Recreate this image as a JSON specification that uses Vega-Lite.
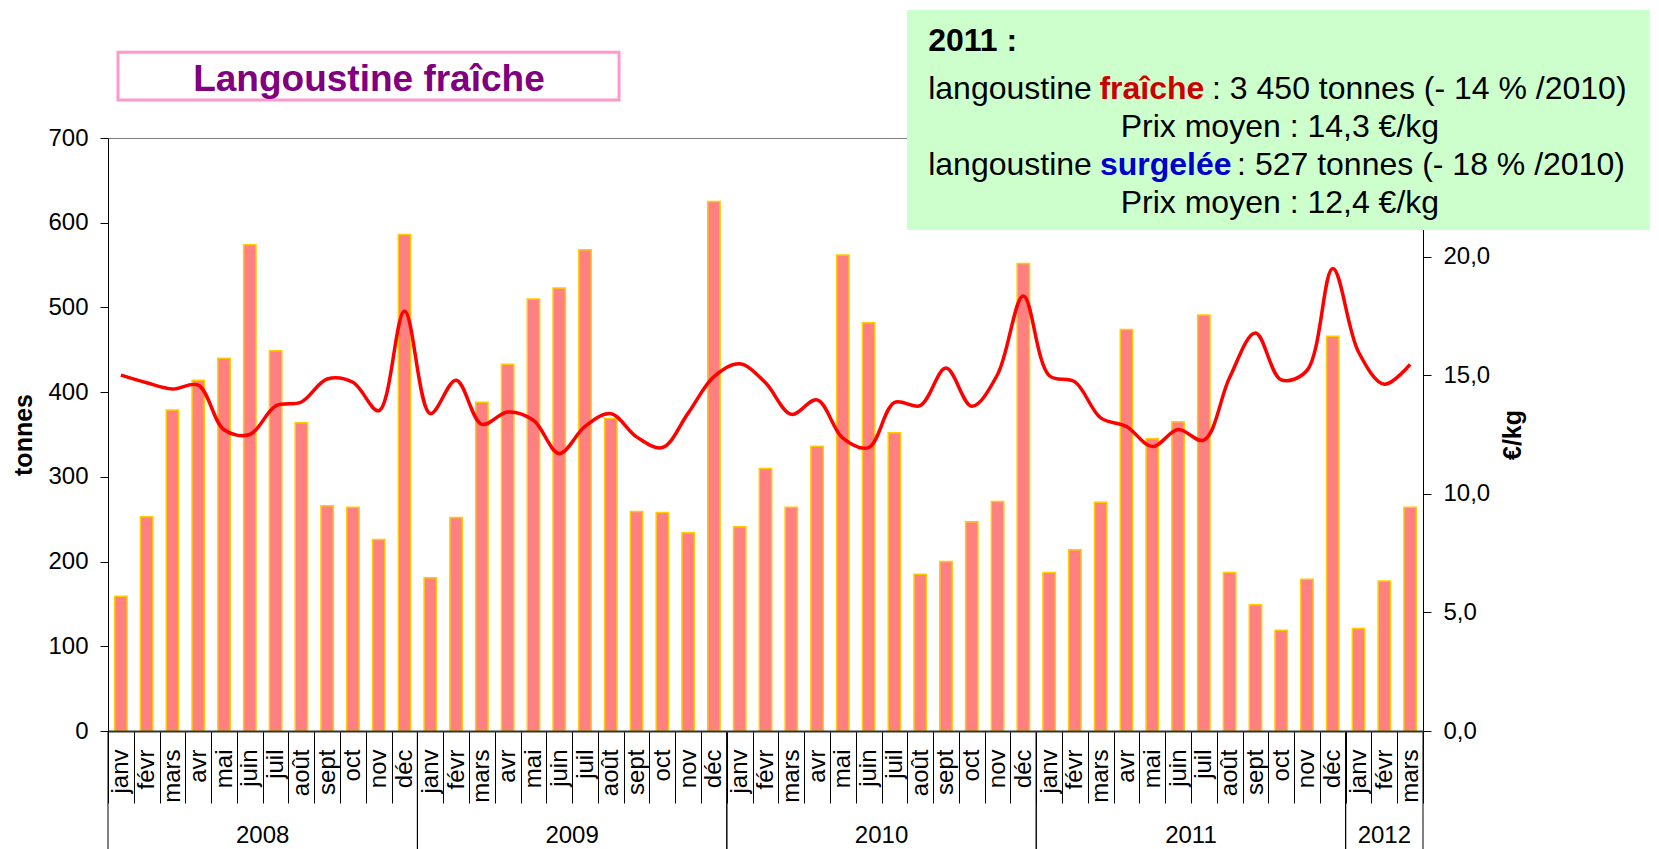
{
  "$schema": "https://vega.github.io/schema/vega-lite/v6.json",
  "width": 1315,
  "height": 593,
  "autosize": {"type": "none"},
  "padding": {"left": 108, "top": 138, "right": 236, "bottom": 118},
  "background": "white",
  "config": {"font": "Liberation Sans", "view": {"stroke": "#808080", "strokeWidth": 1}},
  "datasets": {
    "mois": [
      {"mois": "2008-01", "tonnes": 159, "prix": 15.0},
      {"mois": "2008-02", "tonnes": 253, "prix": 14.68},
      {"mois": "2008-03", "tonnes": 379, "prix": 14.42},
      {"mois": "2008-04", "tonnes": 414, "prix": 14.58},
      {"mois": "2008-05", "tonnes": 440, "prix": 12.7},
      {"mois": "2008-06", "tonnes": 574, "prix": 12.5},
      {"mois": "2008-07", "tonnes": 449, "prix": 13.7},
      {"mois": "2008-08", "tonnes": 364, "prix": 13.87},
      {"mois": "2008-09", "tonnes": 266, "prix": 14.84},
      {"mois": "2008-10", "tonnes": 264, "prix": 14.7},
      {"mois": "2008-11", "tonnes": 226, "prix": 13.5},
      {"mois": "2008-12", "tonnes": 586, "prix": 17.71},
      {"mois": "2009-01", "tonnes": 181, "prix": 13.38},
      {"mois": "2009-02", "tonnes": 252, "prix": 14.79},
      {"mois": "2009-03", "tonnes": 388, "prix": 12.93},
      {"mois": "2009-04", "tonnes": 433, "prix": 13.45},
      {"mois": "2009-05", "tonnes": 510, "prix": 13.1},
      {"mois": "2009-06", "tonnes": 523, "prix": 11.7},
      {"mois": "2009-07", "tonnes": 568, "prix": 12.84},
      {"mois": "2009-08", "tonnes": 369, "prix": 13.38},
      {"mois": "2009-09", "tonnes": 259, "prix": 12.4},
      {"mois": "2009-10", "tonnes": 258, "prix": 11.95},
      {"mois": "2009-11", "tonnes": 234, "prix": 13.4},
      {"mois": "2009-12", "tonnes": 625, "prix": 14.94},
      {"mois": "2010-01", "tonnes": 241, "prix": 15.48},
      {"mois": "2010-02", "tonnes": 310, "prix": 14.68},
      {"mois": "2010-03", "tonnes": 264, "prix": 13.35},
      {"mois": "2010-04", "tonnes": 336, "prix": 13.96},
      {"mois": "2010-05", "tonnes": 562, "prix": 12.35},
      {"mois": "2010-06", "tonnes": 482, "prix": 11.95},
      {"mois": "2010-07", "tonnes": 352, "prix": 13.85},
      {"mois": "2010-08", "tonnes": 185, "prix": 13.72},
      {"mois": "2010-09", "tonnes": 200, "prix": 15.3},
      {"mois": "2010-10", "tonnes": 247, "prix": 13.69},
      {"mois": "2010-11", "tonnes": 271, "prix": 15.03},
      {"mois": "2010-12", "tonnes": 552, "prix": 18.34},
      {"mois": "2011-01", "tonnes": 187, "prix": 14.99},
      {"mois": "2011-02", "tonnes": 214, "prix": 14.72},
      {"mois": "2011-03", "tonnes": 270, "prix": 13.2},
      {"mois": "2011-04", "tonnes": 474, "prix": 12.84},
      {"mois": "2011-05", "tonnes": 345, "prix": 11.99},
      {"mois": "2011-06", "tonnes": 365, "prix": 12.71},
      {"mois": "2011-07", "tonnes": 491, "prix": 12.26},
      {"mois": "2011-08", "tonnes": 187, "prix": 14.9},
      {"mois": "2011-09", "tonnes": 149, "prix": 16.78},
      {"mois": "2011-10", "tonnes": 119, "prix": 14.8},
      {"mois": "2011-11", "tonnes": 179, "prix": 15.2},
      {"mois": "2011-12", "tonnes": 466, "prix": 19.5},
      {"mois": "2012-01", "tonnes": 121, "prix": 15.98},
      {"mois": "2012-02", "tonnes": 177, "prix": 14.62},
      {"mois": "2012-03", "tonnes": 264, "prix": 15.46}
    ],
    "annees": [
      {"annee": "2008", "debut": "2008-01", "fin": "2008-12", "centre": "2008-07"},
      {"annee": "2009", "debut": "2009-01", "fin": "2009-12", "centre": "2009-07"},
      {"annee": "2010", "debut": "2010-01", "fin": "2010-12", "centre": "2010-07"},
      {"annee": "2011", "debut": "2011-01", "fin": "2011-12", "centre": "2011-07"},
      {"annee": "2012", "debut": "2012-01", "fin": "2012-03", "centre": "2012-02"}
    ]
  },
  "layer": [
    {
      "data": {"name": "mois"},
      "mark": {"type": "bar", "fill": "#FF8080", "stroke": "#FFCC00", "strokeWidth": 1.5, "width": {"band": 0.48}},
      "encoding": {
        "x": {
          "field": "mois", "type": "ordinal",
          "scale": {"paddingInner": 0, "paddingOuter": 0},
          "axis": {
            "orient": "bottom", "title": null,
            "labelExpr": "isString(datum.value) ? ['janv','févr','mars','avr','mai','juin','juil','août','sept','oct','nov','déc'][toNumber(substring(datum.value,5,7))-1] : ''",
            "labelAngle": 270, "labelAlign": "right", "labelBaseline": "middle",
            "labelFontSize": 24, "labelColor": "#000000", "labelPadding": -54,
            "tickBand": "extent", "tickSize": 72, "tickColor": "#000000", "tickWidth": 1,
            "domainColor": "#333333", "domainWidth": 2, "zindex": 1,
            "labelOverlap": false, "labelBound": false, "labelFlush": false
          }
        },
        "y": {
          "field": "tonnes", "type": "quantitative",
          "scale": {"domain": [0, 700], "nice": false},
          "axis": {
            "orient": "left", "title": "tonnes", "titleFontSize": 25, "titleFontWeight": "bold", "titleColor": "#000000", "titlePadding": 11,
            "values": [0, 100, 200, 300, 400, 500, 600, 700],
            "labelFontSize": 24, "labelColor": "#000000", "labelPadding": 12,
            "tickSize": 8, "tickColor": "#000000", "domainColor": "#000000", "grid": false, "zindex": 1
          }
        }
      }
    },
    {
      "data": {"name": "mois"},
      "mark": {"type": "line", "color": "#FF0000", "strokeWidth": 3.5, "interpolate": "catmull-rom"},
      "encoding": {
        "x": {"field": "mois", "type": "ordinal", "scale": {"paddingInner": 0, "paddingOuter": 0}, "axis": null},
        "y": {
          "field": "prix", "type": "quantitative",
          "scale": {"domain": [0, 25], "nice": false},
          "axis": {
            "orient": "right", "title": "€/kg", "titleFontSize": 25, "titleFontWeight": "bold", "titleColor": "#000000",
            "titleAngle": 270, "titleBaseline": "top", "titlePadding": 11,
            "values": [0, 5, 10, 15, 20],
            "labelExpr": "replace(format(datum.value, '.1f'), '.', ',')",
            "labelAlign": "left",
            "labelFontSize": 24, "labelColor": "#000000", "labelPadding": 12,
            "tickSize": 8, "tickColor": "#000000", "domainColor": "#000000", "grid": false
          }
        }
      }
    },
    {
      "data": {"name": "annees"},
      "mark": {"type": "rule", "color": "#000000", "strokeWidth": 1, "clip": false},
      "encoding": {
        "x": {"field": "debut", "type": "ordinal", "bandPosition": 0, "axis": null,
              "scale": {"paddingInner": 0, "paddingOuter": 0, "domain": ["2008-01","2008-02","2008-03","2008-04","2008-05","2008-06","2008-07","2008-08","2008-09","2008-10","2008-11","2008-12","2009-01","2009-02","2009-03","2009-04","2009-05","2009-06","2009-07","2009-08","2009-09","2009-10","2009-11","2009-12","2010-01","2010-02","2010-03","2010-04","2010-05","2010-06","2010-07","2010-08","2010-09","2010-10","2010-11","2010-12","2011-01","2011-02","2011-03","2011-04","2011-05","2011-06","2011-07","2011-08","2011-09","2011-10","2011-11","2011-12","2012-01","2012-02","2012-03"]}},
        "y": {"datum": 0, "type": "quantitative", "scale": {"domain": [0, 700], "nice": false}, "axis": null},
        "y2": {"datum": -140}
      }
    },
    {
      "data": {"name": "annees"},
      "mark": {"type": "rule", "color": "#000000", "strokeWidth": 1, "clip": false},
      "encoding": {
        "x": {"field": "fin", "type": "ordinal", "bandPosition": 1, "axis": null,
              "scale": {"paddingInner": 0, "paddingOuter": 0, "domain": ["2008-01","2008-02","2008-03","2008-04","2008-05","2008-06","2008-07","2008-08","2008-09","2008-10","2008-11","2008-12","2009-01","2009-02","2009-03","2009-04","2009-05","2009-06","2009-07","2009-08","2009-09","2009-10","2009-11","2009-12","2010-01","2010-02","2010-03","2010-04","2010-05","2010-06","2010-07","2010-08","2010-09","2010-10","2010-11","2010-12","2011-01","2011-02","2011-03","2011-04","2011-05","2011-06","2011-07","2011-08","2011-09","2011-10","2011-11","2011-12","2012-01","2012-02","2012-03"]}},
        "y": {"datum": 0, "type": "quantitative", "scale": {"domain": [0, 700], "nice": false}, "axis": null},
        "y2": {"datum": -140}
      }
    },
    {
      "data": {"name": "annees"},
      "transform": [{"filter": "datum.annee != '2012'"}],
      "mark": {"type": "text", "fontSize": 24, "color": "#000000", "align": "center", "baseline": "alphabetic", "dx": -12.9, "clip": false},
      "encoding": {
        "text": {"field": "annee"},
        "x": {"field": "centre", "type": "ordinal", "bandPosition": 0.5, "axis": null,
              "scale": {"paddingInner": 0, "paddingOuter": 0, "domain": ["2008-01","2008-02","2008-03","2008-04","2008-05","2008-06","2008-07","2008-08","2008-09","2008-10","2008-11","2008-12","2009-01","2009-02","2009-03","2009-04","2009-05","2009-06","2009-07","2009-08","2009-09","2009-10","2009-11","2009-12","2010-01","2010-02","2010-03","2010-04","2010-05","2010-06","2010-07","2010-08","2010-09","2010-10","2010-11","2010-12","2011-01","2011-02","2011-03","2011-04","2011-05","2011-06","2011-07","2011-08","2011-09","2011-10","2011-11","2011-12","2012-01","2012-02","2012-03"]}},
        "y": {"datum": -132.6, "type": "quantitative", "scale": {"domain": [0, 700], "nice": false}, "axis": null}
      }
    },
    {
      "data": {"name": "annees"},
      "transform": [{"filter": "datum.annee == '2012'"}],
      "mark": {"type": "text", "fontSize": 24, "color": "#000000", "align": "center", "baseline": "alphabetic", "clip": false},
      "encoding": {
        "text": {"field": "annee"},
        "x": {"field": "centre", "type": "ordinal", "bandPosition": 0.5, "axis": null,
              "scale": {"paddingInner": 0, "paddingOuter": 0, "domain": ["2008-01","2008-02","2008-03","2008-04","2008-05","2008-06","2008-07","2008-08","2008-09","2008-10","2008-11","2008-12","2009-01","2009-02","2009-03","2009-04","2009-05","2009-06","2009-07","2009-08","2009-09","2009-10","2009-11","2009-12","2010-01","2010-02","2010-03","2010-04","2010-05","2010-06","2010-07","2010-08","2010-09","2010-10","2010-11","2010-12","2011-01","2011-02","2011-03","2011-04","2011-05","2011-06","2011-07","2011-08","2011-09","2011-10","2011-11","2011-12","2012-01","2012-02","2012-03"]}},
        "y": {"datum": -132.6, "type": "quantitative", "scale": {"domain": [0, 700], "nice": false}, "axis": null}
      }
    },
    {
      "data": {"values": [{"cadre": "bilan 2011"}]},
      "mark": {"type": "rect", "fill": "#CCFFCC", "clip": false},
      "encoding": {
        "x": {"datum": 30.99, "type": "quantitative", "scale": {"domain": [0, 51], "nice": false, "zero": false}, "axis": null},
        "x2": {"datum": 59.8},
        "y": {"datum": 851.1, "type": "quantitative", "scale": {"domain": [0, 700], "nice": false, "zero": false}, "axis": null},
        "y2": {"datum": 591.4}
      }
    },
    {
      "data": {"values": [{"cadre": "titre"}]},
      "mark": {"type": "rect", "fill": "#FFFFFF", "stroke": "#FF99CC", "strokeWidth": 3, "clip": false},
      "encoding": {
        "x": {"datum": 0.388, "type": "quantitative", "scale": {"domain": [0, 51], "nice": false, "zero": false}, "axis": null},
        "x2": {"datum": 19.82},
        "y": {"datum": 801.2, "type": "quantitative", "scale": {"domain": [0, 700], "nice": false, "zero": false}, "axis": null},
        "y2": {"datum": 744.9}
      }
    },
    {
      "data": {"values": [{"texte": "Langoustine fraîche"}]},
      "mark": {"type": "text", "fontSize": 37, "fontWeight": "bold", "color": "#800080", "align": "center", "baseline": "alphabetic", "clip": false},
      "encoding": {
        "text": {"field": "texte"},
        "x": {"datum": 10.12, "type": "quantitative", "scale": {"domain": [0, 51], "nice": false, "zero": false}, "axis": null},
        "y": {"datum": 755.8, "type": "quantitative", "scale": {"domain": [0, 700], "nice": false, "zero": false}, "axis": null}
      }
    },
    {
      "data": {"values": [{"texte": "2011 :"}]},
      "mark": {"type": "text", "fontSize": 32, "fontWeight": "bold", "color": "#000000", "align": "left", "baseline": "alphabetic", "clip": false},
      "encoding": {
        "text": {"field": "texte"},
        "x": {"datum": 31.81, "type": "quantitative", "scale": {"domain": [0, 51], "nice": false, "zero": false}, "axis": null},
        "y": {"datum": 802.7, "type": "quantitative", "scale": {"domain": [0, 700], "nice": false, "zero": false}, "axis": null}
      }
    },
    {
      "data": {"values": [{"texte": "langoustine"}]},
      "mark": {"type": "text", "fontSize": 32, "color": "#000000", "align": "left", "baseline": "alphabetic", "clip": false},
      "encoding": {
        "text": {"field": "texte"},
        "x": {"datum": 31.81, "type": "quantitative", "scale": {"domain": [0, 51], "nice": false, "zero": false}, "axis": null},
        "y": {"datum": 746.0, "type": "quantitative", "scale": {"domain": [0, 700], "nice": false, "zero": false}, "axis": null}
      }
    },
    {
      "data": {"values": [{"texte": "fraîche"}]},
      "mark": {"type": "text", "fontSize": 32, "fontWeight": "bold", "color": "#CC0000", "align": "left", "baseline": "alphabetic", "clip": false},
      "encoding": {
        "text": {"field": "texte"},
        "x": {"datum": 38.45, "type": "quantitative", "scale": {"domain": [0, 51], "nice": false, "zero": false}, "axis": null},
        "y": {"datum": 746.0, "type": "quantitative", "scale": {"domain": [0, 700], "nice": false, "zero": false}, "axis": null}
      }
    },
    {
      "data": {"values": [{"texte": ": 3 450 tonnes (- 14 % /2010)"}]},
      "mark": {"type": "text", "fontSize": 32, "color": "#000000", "align": "left", "baseline": "alphabetic", "clip": false},
      "encoding": {
        "text": {"field": "texte"},
        "x": {"datum": 42.82, "type": "quantitative", "scale": {"domain": [0, 51], "nice": false, "zero": false}, "axis": null},
        "y": {"datum": 746.0, "type": "quantitative", "scale": {"domain": [0, 700], "nice": false, "zero": false}, "axis": null}
      }
    },
    {
      "data": {"values": [{"texte": "Prix moyen : 14,3 €/kg"}]},
      "mark": {"type": "text", "fontSize": 32, "color": "#000000", "align": "center", "baseline": "alphabetic", "clip": false},
      "encoding": {
        "text": {"field": "texte"},
        "x": {"datum": 45.45, "type": "quantitative", "scale": {"domain": [0, 51], "nice": false, "zero": false}, "axis": null},
        "y": {"datum": 701.2, "type": "quantitative", "scale": {"domain": [0, 700], "nice": false, "zero": false}, "axis": null}
      }
    },
    {
      "data": {"values": [{"texte": "langoustine"}]},
      "mark": {"type": "text", "fontSize": 32, "color": "#000000", "align": "left", "baseline": "alphabetic", "clip": false},
      "encoding": {
        "text": {"field": "texte"},
        "x": {"datum": 31.81, "type": "quantitative", "scale": {"domain": [0, 51], "nice": false, "zero": false}, "axis": null},
        "y": {"datum": 656.3, "type": "quantitative", "scale": {"domain": [0, 700], "nice": false, "zero": false}, "axis": null}
      }
    },
    {
      "data": {"values": [{"texte": "surgelée"}]},
      "mark": {"type": "text", "fontSize": 32, "fontWeight": "bold", "color": "#0000CC", "align": "left", "baseline": "alphabetic", "clip": false},
      "encoding": {
        "text": {"field": "texte"},
        "x": {"datum": 38.47, "type": "quantitative", "scale": {"domain": [0, 51], "nice": false, "zero": false}, "axis": null},
        "y": {"datum": 656.3, "type": "quantitative", "scale": {"domain": [0, 700], "nice": false, "zero": false}, "axis": null}
      }
    },
    {
      "data": {"values": [{"texte": ": 527 tonnes (- 18 % /2010)"}]},
      "mark": {"type": "text", "fontSize": 32, "color": "#000000", "align": "left", "baseline": "alphabetic", "clip": false},
      "encoding": {
        "text": {"field": "texte"},
        "x": {"datum": 43.79, "type": "quantitative", "scale": {"domain": [0, 51], "nice": false, "zero": false}, "axis": null},
        "y": {"datum": 656.3, "type": "quantitative", "scale": {"domain": [0, 700], "nice": false, "zero": false}, "axis": null}
      }
    },
    {
      "data": {"values": [{"texte": "Prix moyen : 12,4 €/kg"}]},
      "mark": {"type": "text", "fontSize": 32, "color": "#000000", "align": "center", "baseline": "alphabetic", "clip": false},
      "encoding": {
        "text": {"field": "texte"},
        "x": {"datum": 45.45, "type": "quantitative", "scale": {"domain": [0, 51], "nice": false, "zero": false}, "axis": null},
        "y": {"datum": 611.5, "type": "quantitative", "scale": {"domain": [0, 700], "nice": false, "zero": false}, "axis": null}
      }
    }
  ],
  "resolve": {"scale": {"x": "independent", "y": "independent"}}
}
